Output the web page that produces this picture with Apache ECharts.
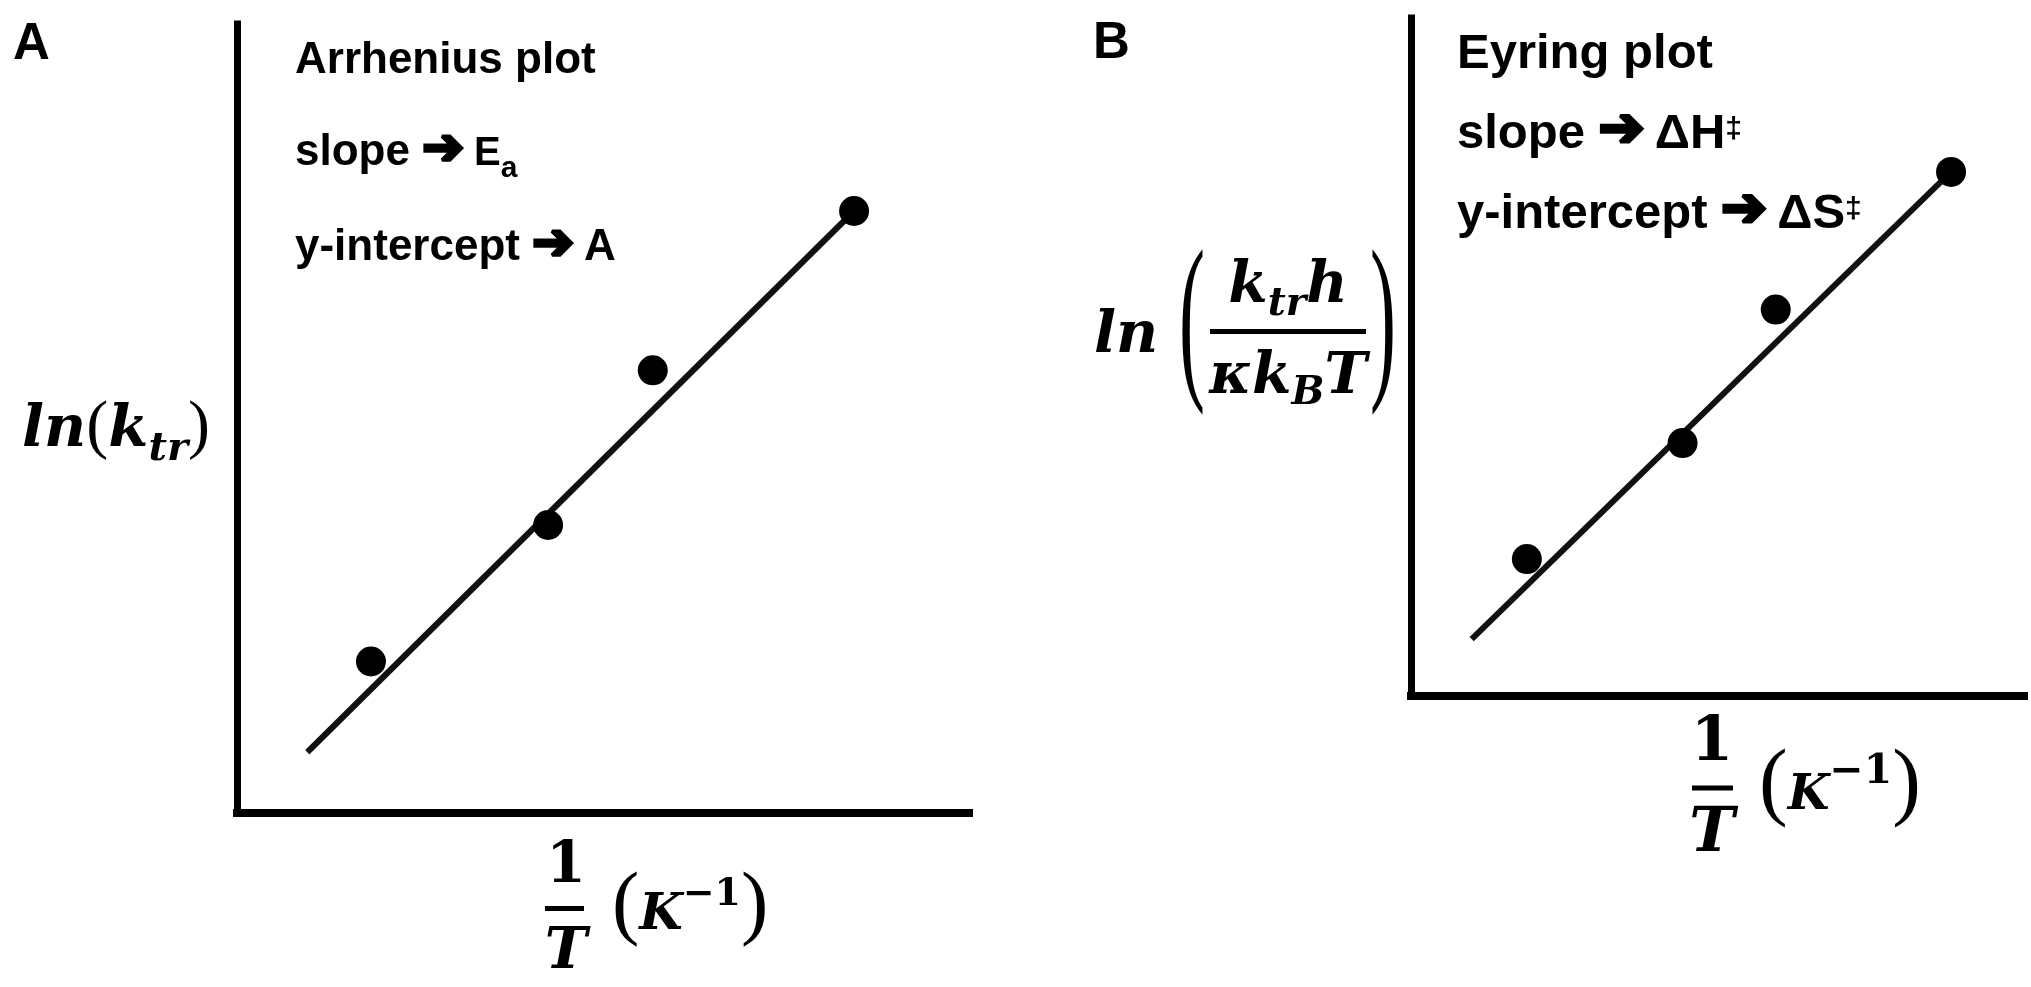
<!DOCTYPE html>
<html>
<head>
<meta charset="utf-8">
<script src="https://cdn.jsdelivr.net/npm/echarts@6/dist/echarts.min.js"></script>
<style>
html,body{margin:0;padding:0;background:#fff;}
#c{width:2031px;height:987px;}
</style>
</head>
<body>
<div id="c"></div>
<script>
// ---------------- data (axis units 0-100) ----------------
const arrheniusX = [18.3, 42.5, 56.8, 84.3];
const arrheniusY = [19.2, 36.5, 56.1, 76.3];
const arrheniusFitX = [9.6, 84.3];
const arrheniusFitY = [7.7, 76.3];

const eyringX = [18.9, 44.3, 59.5, 88.1];
const eyringY = [20.2, 37.3, 57.0, 77.3];
const eyringFitX = [9.9, 88.1];
const eyringFitY = [8.4, 77.3];

const panelLabels = ['A', 'B'];
const ARROW = '\u2794';
const arrheniusNotes = ['Arrhenius plot', 'slope ', 'E', 'a', 'y-intercept ', 'A'];
const eyringNotes = ['Eyring plot', 'slope ', '\u0394H', 'y-intercept ', '\u0394S', '\u2021'];

// ---------------- text layout helpers ----------------
const SANS = '"Liberation Sans", Arial, Helvetica, sans-serif';
const ARROWFONT = '"DejaVu Sans", sans-serif';
const MATH = '"DejaVu Serif", serif';
const PAREN = '"Liberation Serif", serif';

const mc = document.createElement('canvas').getContext('2d');
function cssFont(p) { return (p.style || 'normal') + ' ' + (p.weight || 'normal') + ' ' + p.size + 'px ' + p.family; }
function meas(p, txt) { mc.font = cssFont(p); mc.textBaseline = 'middle'; return mc.measureText(txt); }
function baseOff(p) { return meas(p, 'H').actualBoundingBoxDescent; }
function textStyle(p, align) {
  const s = { text: p.t, fontSize: p.size, fontFamily: p.family, fontWeight: p.weight || 'normal',
           fontStyle: p.style || 'normal', fill: '#000', align: align || 'left', verticalAlign: 'middle' };
  if (p.strokeW) { s.stroke = '#000'; s.lineWidth = p.strokeW; }
  return s;
}
// lay out pieces on a common baseline
function run(x0, baseline, pieces, anchor) {
  const widths = pieces.map(p => meas(p, p.t).width + (p.gap || 0));
  const total = widths.reduce((a, b) => a + b, 0);
  let x = anchor === 'center' ? x0 - total / 2 : (anchor === 'right' ? x0 - total : x0);
  const els = [];
  pieces.forEach((p, i) => {
    els.push({ type: 'text', silent: true, z: 10, x: x, y: baseline + (p.dy || 0) - baseOff(p), style: textStyle(p, 'left') });
    x += widths[i];
  });
  return els;
}
// a tall, stretched bracket centred on (cx, cy)
function bigParen(t, cx, cy, size, sx, sy) {
  const p = { t: t, size: size, family: PAREN };
  const m = meas(p, t);
  const vOff = (m.actualBoundingBoxDescent - m.actualBoundingBoxAscent) / 2;
  return { type: 'text', silent: true, z: 10, x: cx, y: cy - vOff * sy, scaleX: sx, scaleY: sy, style: textStyle(p, 'center') };
}
function bar(x, y, w, h) {
  return { type: 'rect', silent: true, z: 10, shape: { x: x, y: y, width: w, height: h }, style: { fill: '#000' } };
}
const S = (t, size, extra) => Object.assign({ t: t, size: size, family: SANS, weight: 'bold' }, extra || {});
const AR = (size, extra) => Object.assign({ t: ARROW, size: size, family: ARROWFONT, weight: 'bold', gap: 10, strokeW: 3.5, dy: -1 }, extra || {});
const M = (t, size, extra) => Object.assign({ t: t, size: size, family: MATH, weight: 'bold', style: 'italic' }, extra || {});
const MU = (t, size, extra) => Object.assign({ t: t, size: size, family: MATH, weight: 'bold' }, extra || {});
const P = (t, size, extra) => Object.assign({ t: t, size: size, family: PAREN }, extra || {});

let graphics = [];
// Panel A
graphics = graphics.concat(run(13, 59, [S(panelLabels[0], 51)]));
graphics = graphics.concat(run(295, 73, [S(arrheniusNotes[0], 44)]));
graphics = graphics.concat(run(295, 165, [S(arrheniusNotes[1], 44), AR(50), S(arrheniusNotes[2], 40), S(arrheniusNotes[3], 30, { dy: 12 })]));
graphics = graphics.concat(run(295, 260, [S(arrheniusNotes[4], 44), AR(50), S(arrheniusNotes[5], 44)]));
// y-axis title A: ln(k_tr)
graphics = graphics.concat(run(116, 446, [M('ln', 58), P('(', 66), M('k', 58), M('tr', 40, { dy: 14 }), P(')', 66)], 'center'));
// x-axis title A: 1/T (K^-1)
graphics = graphics.concat(run(566, 882, [MU('1', 57)], 'center'));
graphics.push(bar(545, 906, 39, 5));
graphics = graphics.concat(run(566, 968, [M('T', 57)], 'center'));
graphics = graphics.concat(run(612, 929, [P('(', 82), M('K', 50), MU('\u22121', 38, { dy: -24 }), P(')', 82)]));

// Panel B
graphics = graphics.concat(run(1093, 58, [S(panelLabels[1], 51)]));
graphics = graphics.concat(run(1457, 68, [S(eyringNotes[0], 49)]));
graphics = graphics.concat(run(1457, 148, [S(eyringNotes[1], 49), AR(55), S(eyringNotes[2], 49), S(eyringNotes[5], 30, { dy: -10 })]));
graphics = graphics.concat(run(1457, 228, [S(eyringNotes[3], 49), AR(55), S(eyringNotes[4], 49), S(eyringNotes[5], 30, { dy: -10 })]));
// y-axis title B: ln( k_tr h / kappa k_B T )
graphics = graphics.concat(run(1094, 352, [M('ln', 58)]));
graphics.push(bigParen('(', 1192, 332, 60, 1.3, 3.05));
graphics = graphics.concat(run(1288, 302, [M('k', 57), M('tr', 39, { dy: 13 }), M('h', 57)], 'center'));
graphics.push(bar(1210, 329, 156, 5));
graphics = graphics.concat(run(1288, 393, [M('\u03BA', 57), M('k', 57), M('B', 39, { dy: 11 }), M('T', 57)], 'center'));
graphics.push(bigParen(')', 1383, 332, 60, 1.3, 3.05));
// x-axis title B
graphics = graphics.concat(run(1712, 760, [MU('1', 61)], 'center'));
graphics.push(bar(1692, 785.5, 41, 5));
graphics = graphics.concat(run(1712, 851, [M('T', 61)], 'center'));
graphics = graphics.concat(run(1759, 809, [P('(', 86), M('K', 48), MU('\u22121', 41, { dy: -26 }), P(')', 86)]));

// ---------------- chart ----------------
function axis(idx, w) {
  return {
    type: 'value', gridIndex: idx, min: 0, max: 100,
    axisLine: { show: true, onZero: false, lineStyle: { color: '#000', width: w, cap: 'square' } },
    axisTick: { show: false }, axisLabel: { show: false }, splitLine: { show: false }
  };
}
const zip = (xs, ys) => xs.map((x, i) => [x, ys[i]]);

const option = {
  backgroundColor: '#fff',
  animation: false,
  grid: [
    { left: 237, top: 24, width: 732, height: 789 },
    { left: 1411, top: 18, width: 613, height: 678 }
  ],
  xAxis: [axis(0, 8), axis(1, 8)],
  yAxis: [axis(0, 7), axis(1, 7)],
  series: [
    { type: 'line', xAxisIndex: 0, yAxisIndex: 0, data: zip(arrheniusFitX, arrheniusFitY), symbol: 'none',
      lineStyle: { color: '#111', width: 6 }, z: 2 },
    { type: 'scatter', xAxisIndex: 0, yAxisIndex: 0, data: zip(arrheniusX, arrheniusY), symbol: 'circle',
      symbolSize: 30, itemStyle: { color: '#000', opacity: 1 }, z: 3 },
    { type: 'line', xAxisIndex: 1, yAxisIndex: 1, data: zip(eyringFitX, eyringFitY), symbol: 'none',
      lineStyle: { color: '#111', width: 6 }, z: 2 },
    { type: 'scatter', xAxisIndex: 1, yAxisIndex: 1, data: zip(eyringX, eyringY), symbol: 'circle',
      symbolSize: 30, itemStyle: { color: '#000', opacity: 1 }, z: 3 }
  ],
  graphic: graphics
};
const chart = echarts.init(document.getElementById('c'));
chart.setOption(option);
</script>
</body>
</html>
